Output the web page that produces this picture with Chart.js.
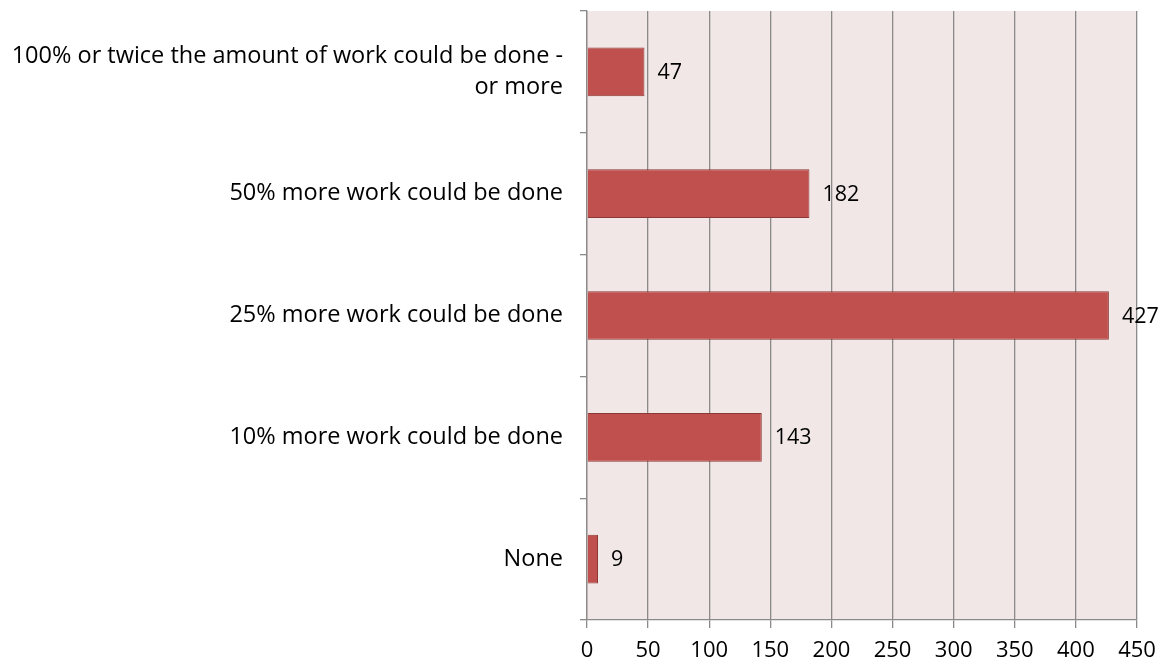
<!DOCTYPE html>
<html>
<head>
<meta charset="utf-8">
<script src="https://cdn.jsdelivr.net/npm/chart.js@4.4.0/dist/chart.umd.min.js"></script>
<style>
  html, body { margin: 0; padding: 0; background: #ffffff; }
  #wrap { width: 1166px; height: 667px; }
</style>
</head>
<body>
<div id="wrap"><canvas id="chart" width="1166" height="667"></canvas></div>
<script>
const categories = [
	['100% or twice the amount of work could be done -', 'or more'],
	'50% more work could be done',
	'25% more work could be done',
	'10% more work could be done',
	'None',
];
const responses = [47, 182, 427, 143, 9];
const xTicks = [0, 50, 100, 150, 200, 250, 300, 350, 400, 450];

const FONT = "'Open Sans', sans-serif";
const GRID = '#8a8a8a';

// pink plot background behind the bars
const plotBg = {
	id: 'plotBg',
	beforeDraw(chart) {
		const { ctx, chartArea: a } = chart;
		ctx.save();
		ctx.fillStyle = '#f2e7e7';
		ctx.fillRect(a.left, a.top, a.right - a.left, a.bottom - a.top);
		ctx.restore();
	},
};

// numbers to the right of each bar
const barValues = {
	id: 'barValues',
	afterDatasetsDraw(chart) {
		const ctx = chart.ctx;
		const meta = chart.getDatasetMeta(0);
		ctx.save();
		ctx.font = '21.5px ' + FONT;
		ctx.fillStyle = '#000';
		ctx.textAlign = 'left';
		ctx.textBaseline = 'middle';
		meta.data.forEach((bar, i) => {
			ctx.fillText(String(responses[i]), bar.x + 13, bar.y + 1);
		});
		ctx.restore();
	},
};

Chart.defaults.font.family = FONT;
Chart.defaults.color = '#000';

new Chart(document.getElementById('chart'), {
	type: 'bar',
	data: {
		labels: categories,
		datasets: [
			{
				data: responses,
				backgroundColor: '#c0504d',
				borderColor: '#8c3836',
				borderWidth: 1,
				categoryPercentage: 0.4,
				barPercentage: 1,
			},
		],
	},
	options: {
		indexAxis: 'y',
		responsive: false,
		animation: false,
		layout: { padding: { top: 11, right: 29, left: 0, bottom: 0 } },
		plugins: {
			legend: { display: false },
			tooltip: { enabled: false },
		},
		scales: {
			x: {
				min: 0,
				max: 450,
				afterBuildTicks: (scale) => {
					scale.ticks = xTicks.map((v) => ({ value: v }));
				},
				afterFit: (scale) => {
					scale.height = 47;
					scale.paddingLeft = 0;
					scale.paddingRight = 0;
				},
				grid: { color: GRID, lineWidth: 1.3, tickLength: 8 },
				border: { color: GRID, width: 1.3 },
				ticks: { font: { size: 22 }, padding: 10, maxRotation: 0 },
			},
			y: {
				afterFit: (scale) => {
					scale.width = 587;
					scale.paddingTop = 0;
					scale.paddingBottom = 0;
				},
				grid: { color: GRID, drawOnChartArea: false, tickLength: 7, offset: true, lineWidth: 1.3 },
				border: { color: GRID, width: 1.3 },
				ticks: { font: { size: 23.5, lineHeight: 1.3 }, padding: 17 },
			},
		},
	},
	plugins: [plotBg, barValues],
});
</script>
</body>
</html>
